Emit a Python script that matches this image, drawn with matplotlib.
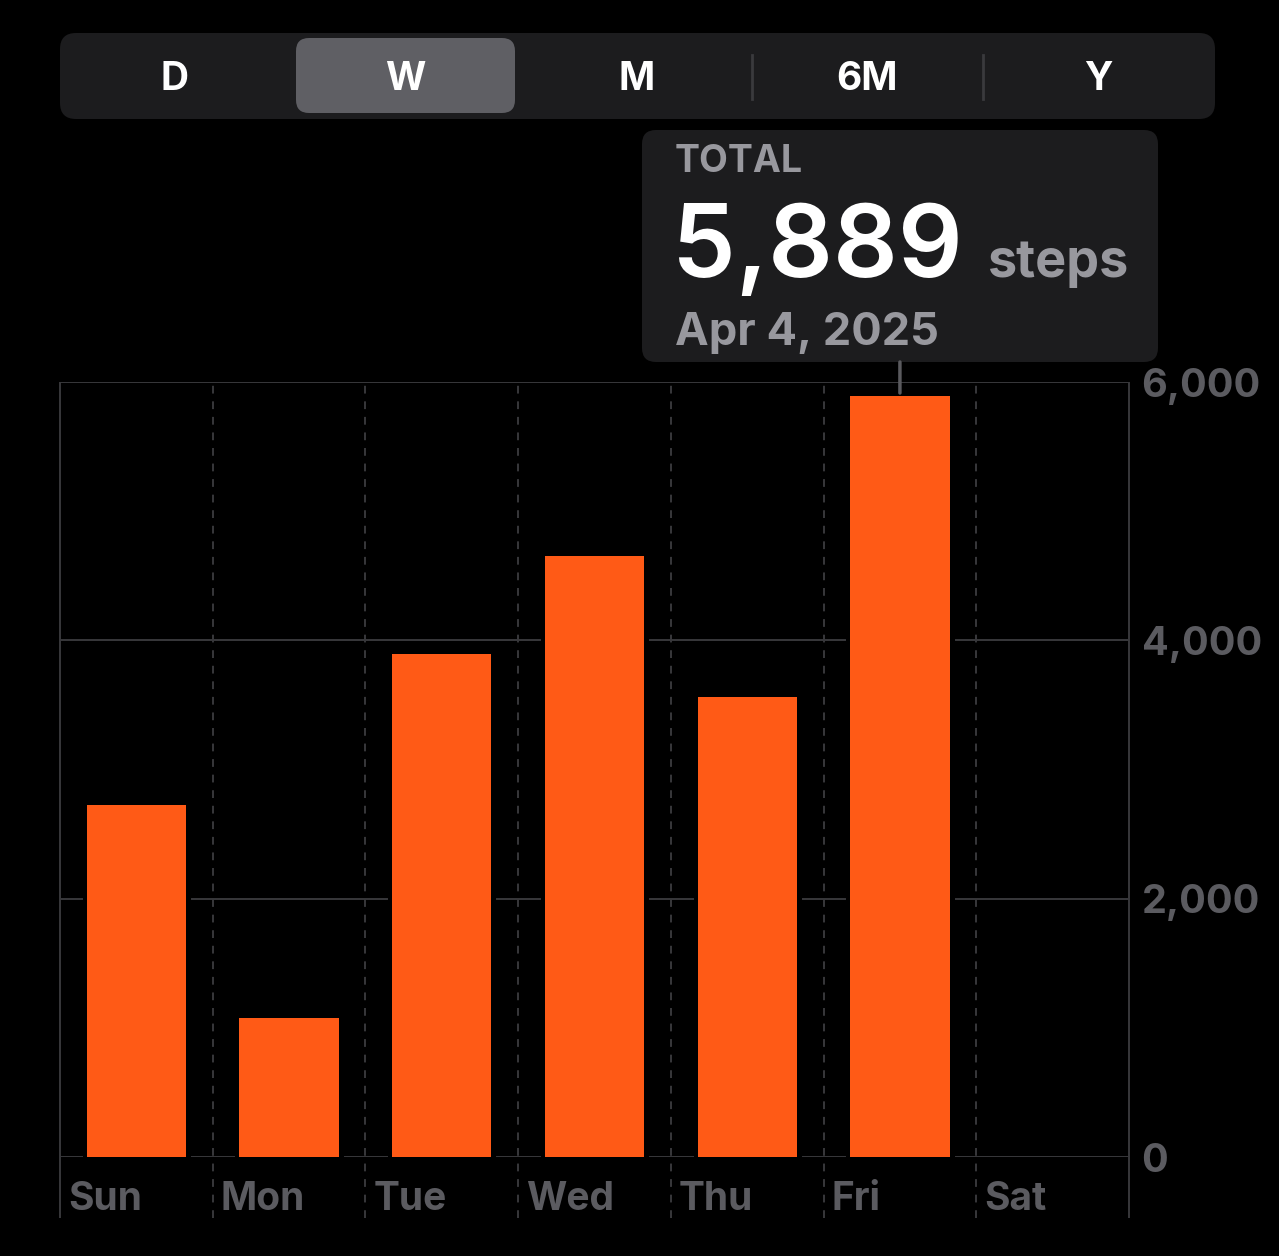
import matplotlib
matplotlib.use("Agg")
import matplotlib.pyplot as plt
from matplotlib.patches import FancyBboxPatch
import matplotlib.patheffects as pe
import matplotlib.transforms as mtransforms

# ---- data ----
days = ["Sun", "Mon", "Tue", "Wed", "Thu", "Fri", "Sat"]
steps = [2725, 1076, 3894, 4653, 3561, 5889, 0]
y_ticks = [0, 2000, 4000, 6000]
y_tick_labels = ["0", "2,000", "4,000", "6,000"]
segments = ["D", "W", "M", "6M", "Y"]
selected_segment = "W"
tooltip_title = "TOTAL"
tooltip_value = "5,889"
tooltip_unit = "steps"
tooltip_date = "Apr 4, 2025"
highlight_day = "Fri"

# ---- style ----
W, H = 1279, 1256
BG = "#000000"
ORANGE = "#FF5A16"
GRID = "#38383b"
AXTXT = "#5b5b60"
TIPTXT = "#98989e"
PANEL = "#1c1c1e"
SEL = "#5f5f64"
FONT = "Inter"

fig = plt.figure(figsize=(W / 100, H / 100), dpi=100, facecolor=BG)

# overlay axes in pixel coordinates for UI decorations
ov = fig.add_axes([0, 0, 1, 1])
ov.set_xlim(0, W)
ov.set_ylim(H, 0)
ov.axis("off")
ov.set_facecolor("none")

# chart axes
L, R, T, B = 60, 1129, 382, 1157
ax = fig.add_axes([L / W, (H - B) / H, (R - L) / W, (B - T) / H])
ax.set_facecolor(BG)
ax.set_xlim(-0.5, len(days) - 0.5)
ax.set_ylim(0, 6000)
for s in ax.spines.values():
    s.set_visible(False)

# horizontal grid
for yv in y_ticks:
    ax.axhline(yv, color=GRID, lw=1.4, zorder=1)

# vertical lines (extend below the plot into the label area)
xt = ax.get_xaxis_transform()
ext = -(1218 - B) / (B - T)
for i in range(len(days) + 1):
    xv = i - 0.5
    if i == 0 or i == len(days):
        ax.plot([xv, xv], [ext, 1], transform=xt, color=GRID, lw=1.4,
                clip_on=False, zorder=1, solid_capstyle="butt")
    else:
        ax.plot([xv, xv], [ext, 1], transform=xt, color=GRID, lw=1.4,
                ls=(0, (4, 4)), clip_on=False, zorder=1)

# bars with a black halo that cuts the grid lines
bars = ax.bar(range(len(days)), steps, width=0.65, color=ORANGE, zorder=3,
              linewidth=0)
for b, v in zip(bars, steps):
    if v > 0:
        b.set_path_effects([pe.Stroke(linewidth=6.5, foreground=BG),
                            pe.Normal()])
    else:
        b.set_visible(False)

# y tick labels on the right
ax.yaxis.tick_right()
ax.set_yticks(y_ticks)
ax.set_yticklabels(y_tick_labels)
ax.tick_params(axis="y", length=0, pad=9, labelcolor=AXTXT,
               labelsize=28.5)
for lab in ax.get_yticklabels():
    lab.set_fontfamily(FONT)
    lab.set_fontweight("bold")
ax.set_xticks([])

# x labels, left aligned in each column
off = mtransforms.offset_copy(xt, fig=fig, x=8, y=0, units="dots")
for i, d in enumerate(days):
    ax.text(i - 0.5, -(1210 - B) / (B - T), d, transform=off, ha="left",
            va="baseline", color=AXTXT, fontsize=28, fontweight="bold",
            fontfamily=FONT, clip_on=False)

# ---- segmented control ----
ov.add_patch(FancyBboxPatch((60, 33), 1155, 86,
                            boxstyle="round,pad=0,rounding_size=16",
                            fc=PANEL, ec="none", zorder=1))
seg_w = 1155 / len(segments)
sel_idx = segments.index(selected_segment)
ov.add_patch(FancyBboxPatch((60 + sel_idx * seg_w + 5, 38), seg_w - 12, 75,
                            boxstyle="round,pad=0,rounding_size=13",
                            fc=SEL, ec="none", zorder=2))
for i, s in enumerate(segments):
    ov.text(60 + (i + 0.5) * seg_w - 1, 90, s, ha="center", va="baseline",
            color="white", fontsize=28, fontweight="bold", fontfamily=FONT,
            zorder=3)
for i in range(1, len(segments)):
    if i in (sel_idx, sel_idx + 1):
        continue
    ov.plot([60 + i * seg_w - 1] * 2, [55, 99], color="#3a3a3d", lw=2,
            zorder=2)

# ---- tooltip ----
ov.add_patch(FancyBboxPatch((642, 130), 516, 232,
                            boxstyle="round,pad=0,rounding_size=14",
                            fc=PANEL, ec="none", zorder=1))
ov.text(675, 172, tooltip_title, ha="left", va="baseline", color=TIPTXT,
        fontsize=27, fontweight="bold", fontfamily=FONT, zorder=2)
ov.text(672, 277, tooltip_value, ha="left", va="baseline", color="white",
        fontsize=73, fontweight="semibold", fontfamily=FONT, zorder=2)
ov.text(988, 277, tooltip_unit, ha="left", va="baseline", color=TIPTXT,
        fontsize=37.5, fontweight="bold", fontfamily=FONT, zorder=2)
ov.text(675, 345, tooltip_date, ha="left", va="baseline", color=TIPTXT,
        fontsize=32.5, fontweight="bold", fontfamily=FONT, zorder=2)

# connector from tooltip to highlighted bar
hi = days.index(highlight_day)
ax.annotate("", xy=(hi, 1.0 - (393 - T) / (B - T)), xycoords=xt,
            xytext=(hi, 1.0 + (T - 362) / (B - T)), textcoords=xt,
            arrowprops=dict(arrowstyle="-", color="#5a5a5e", lw=2.5,
                            shrinkA=0, shrinkB=0), annotation_clip=False,
            zorder=5)

fig.savefig("out.png", dpi=100, facecolor=BG)
